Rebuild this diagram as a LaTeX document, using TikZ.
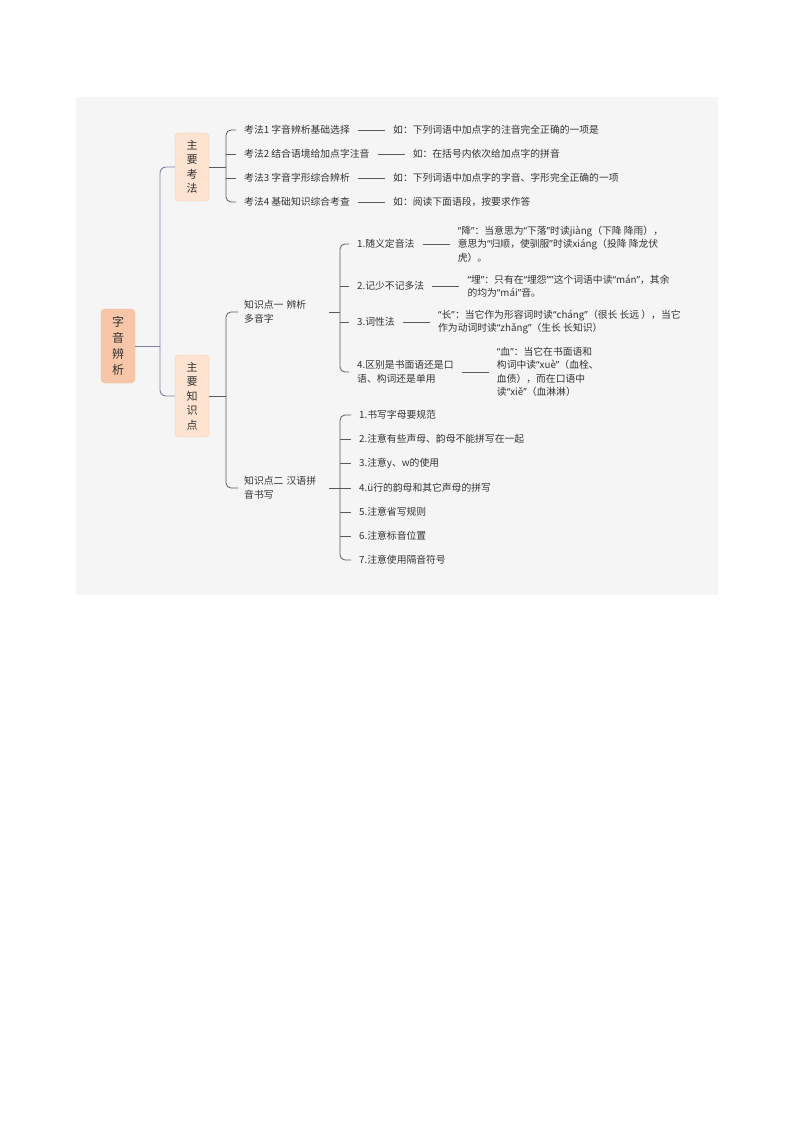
\documentclass[tikz,border=0pt]{standalone}
\usepackage{fontspec}
\setmainfont{Noto Sans CJK SC}
\newfontfamily\latinq{Noto Sans}
\newcommand{\oq}{{\latinq “}}
\newcommand{\cq}{{\latinq ”}}
\usetikzlibrary{positioning,calc}

\definecolor{bgc}{HTML}{F5F5F5}
\definecolor{rootfill}{HTML}{F7C6A8}
\definecolor{rootedge}{HTML}{F0B898}
\definecolor{topicfill}{HTML}{FDE3D0}
\definecolor{topicedge}{HTML}{F5C9AA}
\definecolor{textc}{HTML}{333333}
\definecolor{rootc}{HTML}{7F7FA8}
\definecolor{linec}{HTML}{5A5A5A}

\begin{document}
\begin{tikzpicture}[
    x=1pt, y=-1pt,
    % boxes
    rootbox/.style={
        rectangle,
        rounded corners=4,
        draw=rootedge,
        fill=rootfill,
        text=textc,
        align=center,
        font=\fontsize{12}{16}\selectfont,
        minimum width=34,
        minimum height=74,
        inner sep=0
    },
    topicbox/.style={
        rectangle,
        rounded corners=4,
        draw=topicedge,
        fill=topicfill,
        text=textc,
        align=center,
        font=\fontsize{11}{14.5}\selectfont,
        minimum width=34,
        inner sep=0
    },
    % plain texts
    leaf/.style={
        anchor=west,
        inner xsep=8,
        inner ysep=1,
        align=left,
        text=textc,
        font=\fontsize{9.8}{13.5}\selectfont
    },
    midleaf/.style={
        leaf,
        inner xsep=6,
        text width=79
    },
    example/.style={
        leaf,
        right=27 of #1
    },
    % lines
    rootline/.style={
        draw=rootc,
        line width=0.9
    },
    branch/.style={
        draw=linec,
        line width=0.8
    },
    dashline/.style={
        draw=linec,
        line width=0.7
    }
]

\useasboundingbox (0,0) rectangle (794,1123);
\fill[bgc] (76,97) rectangle (718,595);

% Place the boxes
\node[rootbox] (root) at (118,346) {字\\音\\辨\\析};
\node[topicbox, minimum height=68] (kaofa) at (192,167) {主\\要\\考\\法};
\node[topicbox, minimum height=82] (zhishi) at (192,396) {主\\要\\知\\识\\点};

% Exam methods
\node[leaf] (kf1) at (236,130) {考法1 字音辨析基础选择};
\node[leaf] (kf2) at (236,154) {考法2 结合语境给加点字注音};
\node[leaf] (kf3) at (236,178) {考法3 字音字形综合辨析};
\node[leaf] (kf4) at (236,202) {考法4 基础知识综合考查};
\node[example=kf1] (kfex1) {如：下列词语中加点字的注音完全正确的一项是};
\node[example=kf2] (kfex2) {如：在括号内依次给加点字的拼音};
\node[example=kf3] (kfex3) {如：下列词语中加点字的字音、字形完全正确的一项};
\node[example=kf4] (kfex4) {如：阅读下面语段，按要求作答};

% Knowledge points
\node[midleaf] (zs1) at (238,312) {知识点一 辨析\\多音字};
\node[midleaf] (zs2) at (238,488) {知识点二 汉语拼\\音书写};

% Polyphonic characters
\node[leaf] (dy1) at (349,244) {1.随义定音法};
\node[leaf] (dy2) at (349,286) {2.记少不记多法};
\node[leaf] (dy3) at (349,322) {3.词性法};
\node[leaf] (dy4) at (349,372) {4.区别是书面语还是口\\语、构词还是单用};
\node[example=dy1] (dyex1) {\oq 降\cq：当意思为\oq 下落\cq 时读jiàng（下降 降雨），\\意思为\oq 归顺，使驯服\cq 时读xiáng（投降 降龙伏\\虎）。};
\node[example=dy2] (dyex2) {\oq 埋\cq：只有在\oq 埋怨\cq\cq 这个词语中读\oq mán\cq，其余\\的均为\oq mái\cq 音。};
\node[example=dy3] (dyex3) {\oq 长\cq：当它作为形容词时读\oq cháng\cq（很长 长远 ），当它\\作为动词时读\oq zhǎng\cq（生长 长知识）};
\node[example=dy4] (dyex4) {\oq 血\cq：当它在书面语和\\构词中读\oq xuè\cq（血栓、\\血债），而在口语中\\读\oq xiě\cq（血淋淋）};

% Pinyin writing
\node[leaf] (py1) at (351,415) {1.书写字母要规范};
\node[leaf] (py2) at (351,439) {2.注意有些声母、韵母不能拼写在一起};
\node[leaf] (py3) at (351,463) {3.注意y、w的使用};
\node[leaf] (py4) at (351,488) {4.ü行的韵母和其它声母的拼写};
\node[leaf] (py5) at (351,512) {5.注意省写规则};
\node[leaf] (py6) at (351,536) {6.注意标音位置};
\node[leaf] (py7) at (351,560) {7.注意使用隔音符号};

% Spine points
\coordinate (rootspine) at (160,346);
\coordinate (kfspine) at (226,167);
\coordinate (zsspine) at (226,396);
\coordinate (dyspine) at (340,312);
\coordinate (pyspine) at (340,488);

% Draw the connections
% root to the two topics
\draw[rootline] (root.east) -- (rootspine);
\draw[rootline, rounded corners=6] (rootspine) |- (kaofa.west);
\draw[rootline, rounded corners=6] (rootspine) |- (zhishi.west);

% topic to exam methods
\draw[branch] (kaofa.east) -- (kfspine);
\draw[branch, rounded corners=5] (kfspine) |- (kf1.west);
\draw[branch, rounded corners=5] (kfspine) |- (kf4.west);
\draw[branch] (kfspine |- kf2.west) -- (kf2.west);
\draw[branch] (kfspine |- kf3.west) -- (kf3.west);

% topic to knowledge points
\draw[branch] (zhishi.east) -- (zsspine);
\draw[branch, rounded corners=5] (zsspine) |- (zs1.west);
\draw[branch, rounded corners=5] (zsspine) |- (zs2.west);

% knowledge point one
\draw[branch] (zs1.east) -- (dyspine);
\draw[branch, rounded corners=5] (dyspine) |- (dy1.west);
\draw[branch, rounded corners=5] (dyspine) |- (dy4.west);
\draw[branch] (dyspine |- dy2.west) -- (dy2.west);
\draw[branch] (dyspine |- dy3.west) -- (dy3.west);

% knowledge point two
\draw[branch] (zs2.east) -- (pyspine);
\draw[branch, rounded corners=5] (pyspine) |- (py1.west);
\draw[branch, rounded corners=5] (pyspine) |- (py7.west);
\foreach \i in {2,...,6}
    \draw[branch] (pyspine |- py\i.west) -- (py\i.west);

% dashes to the examples
\foreach \a/\b in {kf1/kfex1,kf2/kfex2,kf3/kfex3,kf4/kfex4,dy1/dyex1,dy2/dyex2,dy3/dyex3,dy4/dyex4}
    \draw[dashline] (\a.east) -- (\b.west);

\end{tikzpicture}
\end{document}
